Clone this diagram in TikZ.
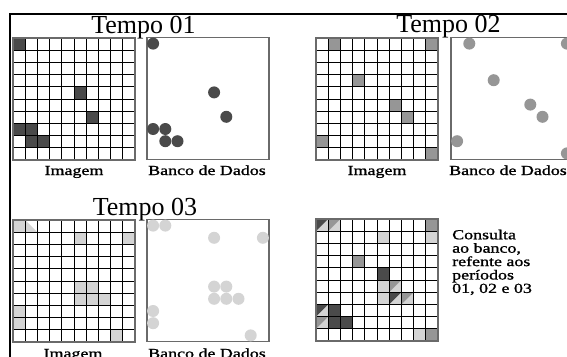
\documentclass[tikz,border=0pt]{standalone}
\usepackage{fontspec}
\setmainfont{Liberation Serif}
\newfontfamily\lblfont[FakeStretch=1.3,FakeBold=1.2]{Liberation Serif}
\usepackage{xcolor}
\usepackage{tikz}
\usetikzlibrary{positioning}

\definecolor{tdark}{HTML}{4A4A4A}
\definecolor{tmid}{HTML}{969696}
\definecolor{tlight}{HTML}{D4D4D4}
\definecolor{boxgray}{HTML}{6A6A6A}

% 10x10 grid, drawn in cell units
\newcommand{\cellgrid}{%
  \foreach \i in {1,...,9} {
    \draw[gridline] (\i,0) -- (\i,10);
    \draw[gridline] (0,\i) -- (10,\i);
  }
  \draw[gridborder] (0,0) rectangle (10,10);
}

\begin{document}
\begin{tikzpicture}[x=1pt,y=-1pt,
  gridline/.style={draw=black,line width=0.9pt},
  gridborder/.style={draw=boxgray,line width=1.2pt},
  dbbox/.style={draw=boxgray,line width=1.1pt},
  titlelbl/.style={font=\fontsize{26}{30}\selectfont,inner sep=0pt,anchor=base},
  lbl/.style={font={\lblfont\fontsize{13.8}{13.4}\selectfont},inner sep=0pt,anchor=base}]
\useasboundingbox (0,0) rectangle (567,356);
\clip (0,0) rectangle (567,356);
\fill[white] (0,0) rectangle (567,356);
\draw[line width=2pt] (10,14) rectangle (620,420);

% Tempo 01
\begin{scope}[shift={(13,38)},x=12.2pt,y=-12.2pt]
\foreach \c/\r in {0/0,5/4,6/6,0/7,1/7,1/8,2/8}
  \fill[tdark] (\c,\r) rectangle ++(1,1);
\cellgrid
\end{scope}
\begin{scope}[shift={(147,37.5)},x=12.2pt,y=-12.2pt]
\draw[dbbox] (0,0) rectangle (10,10);
\foreach \c/\r in {0/0,5/4,6/6,0/7,1/7,1/8,2/8}
  \fill[tdark] (\c+0.5,\r+0.5) circle (6pt);
\end{scope}
\node[titlelbl] (t1) at (143.5,33) {Tempo 01};
\node[lbl] (img1) at (74,175) {Imagem};
\node[lbl] (db1) at (207,175) {Banco de Dados};

% Tempo 02
\begin{scope}[shift={(316,38)},x=12.2pt,y=-12.2pt]
\foreach \c/\r in {1/0,9/0,3/3,6/5,7/6,0/8,9/9}
  \fill[tmid] (\c,\r) rectangle ++(1,1);
\cellgrid
\end{scope}
\begin{scope}[shift={(451,37.5)},x=12.2pt,y=-12.2pt]
\draw[dbbox] (0,0) rectangle (10,10);
\foreach \c/\r in {1/0,9/0,3/3,6/5,7/6,0/8,9/9}
  \fill[tmid] (\c+0.5,\r+0.5) circle (6pt);
\end{scope}
\node[titlelbl] (t2) at (448.5,32) {Tempo 02};
\node[lbl] (img2) at (377,175) {Imagem};
\node[lbl] (db2) at (508,175) {Banco de Dados};

% Tempo 03
\begin{scope}[shift={(13,220)},x=12.2pt,y=-12.2pt]
\foreach \c/\r in {0/0,5/1,9/1,5/5,6/5,5/6,6/6,7/6,0/7,0/8,8/9}
  \fill[tlight] (\c,\r) rectangle ++(1,1);
\fill[tlight] (1,0) -- (1,1) -- (2,1) -- cycle;
\cellgrid
\end{scope}
\begin{scope}[shift={(147,219.5)},x=12.2pt,y=-12.2pt]
\draw[dbbox] (0,0) rectangle (10,10);
\foreach \c/\r in {0/0,1/0,5/1,9/1,5/5,6/5,5/6,6/6,7/6,0/7,0/8,8/9}
  \fill[tlight] (\c+0.5,\r+0.5) circle (6pt);
\end{scope}
\node[titlelbl] (t3) at (145,215) {Tempo 03};
\node[lbl] (img3) at (73,358) {Imagem};
\node[lbl] (db3) at (207,358) {Banco de Dados};

% periodos 01, 02 e 03
\begin{scope}[shift={(316,219)},x=12.2pt,y=-12.2pt]
\foreach \c/\r in {5/4,1/7,1/8,2/8}
  \fill[tdark] (\c,\r) rectangle ++(1,1);
\foreach \c/\r in {9/0,3/3,9/9}
  \fill[tmid] (\c,\r) rectangle ++(1,1);
\foreach \c/\r in {5/1,9/1,5/5,5/6,8/9}
  \fill[tlight] (\c,\r) rectangle ++(1,1);
\foreach \c/\r/\col in {0/0/tdark,1/0/tmid,6/5/tmid,6/6/tdark,7/6/tmid,0/7/tdark,0/8/tmid} {
  \fill[tlight] (\c+1,\r) -- (\c+1,\r+1) -- (\c,\r+1) -- cycle;
  \fill[\col] (\c,\r) -- (\c+1,\r) -- (\c,\r+1) -- cycle;
}
\cellgrid
\end{scope}
\node[lbl,align=left,anchor=north west] (query) at (452,229.5)
  {Consulta\\ao banco,\\refente aos\\períodos\\01, 02 e 03};
\end{tikzpicture}
\end{document}
